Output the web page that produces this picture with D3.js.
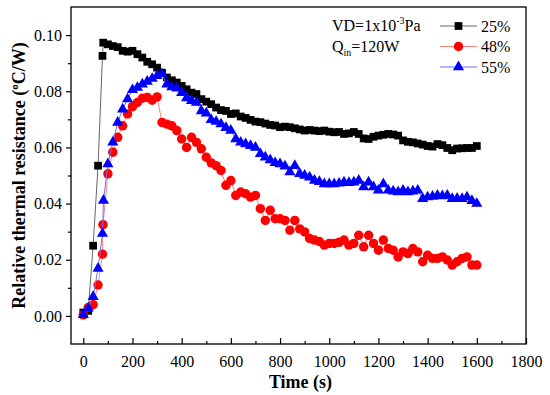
<!DOCTYPE html>
<html><head><meta charset="utf-8">
<script src="https://cdn.jsdelivr.net/npm/d3@7"></script>
<style>body{margin:0;background:#fff}svg{display:block}text{font-family:"Liberation Serif","Times New Roman",serif}</style>
</head><body><div id="chart"></div>
<script>
const seriesNames = ["25%", "48%", "55%"];
const xTicks = [0,200,400,600,800,1000,1200,1400,1600,1800];
const yTicks = [0.00,0.02,0.04,0.06,0.08,0.10];
const yTickLabels = ["0.00","0.02","0.04","0.06","0.08","0.10"];

const time25 = [0,20,40,60,78,81,100,120,140,160,180,200,220,240,260,280,300,320,340,360,380,400,420,440,460,480,500,520,540,560,580,600,620,640,660,680,700,720,740,760,780,800,820,840,860,880,900,920,940,960,980,1000,1020,1040,1060,1080,1100,1120,1140,1160,1180,1200,1220,1240,1260,1280,1300,1320,1340,1360,1380,1400,1420,1440,1460,1480,1500,1520,1540,1560,1580,1600];
const value25 = [0.0012,0.0018,0.025,0.0535,0.0926,0.0973,0.0967,0.0961,0.0957,0.0944,0.0941,0.0944,0.0932,0.0920,0.0905,0.0896,0.0884,0.0866,0.0849,0.0839,0.0831,0.0819,0.0807,0.0795,0.0790,0.0772,0.0763,0.0754,0.0742,0.0733,0.0730,0.0719,0.0721,0.0710,0.0705,0.0698,0.0692,0.0690,0.0685,0.0680,0.0678,0.0672,0.0674,0.0672,0.0668,0.0664,0.0660,0.0662,0.0660,0.0658,0.0660,0.0656,0.0654,0.0655,0.0648,0.0650,0.0655,0.0648,0.0632,0.0630,0.0638,0.0642,0.0645,0.0648,0.0646,0.0642,0.0625,0.0620,0.0618,0.0614,0.0610,0.0605,0.0603,0.0612,0.0608,0.0598,0.0590,0.0596,0.0597,0.0598,0.0598,0.0605];

const time48 = [0,20,40,60,78,80,100,120,140,160,180,200,220,240,260,280,300,320,340,360,380,400,420,440,460,480,500,520,540,560,580,600,620,640,660,680,700,720,740,760,780,800,820,840,860,880,900,920,940,960,980,1000,1020,1040,1060,1080,1100,1120,1140,1160,1180,1200,1220,1240,1260,1280,1300,1320,1340,1360,1380,1400,1420,1440,1460,1480,1500,1520,1540,1560,1580,1600];
const value48 = [0.0004,0.0030,0.0040,0.0110,0.0220,0.0325,0.0506,0.0583,0.0636,0.0677,0.0719,0.0745,0.0760,0.0775,0.0778,0.0768,0.0780,0.0689,0.0683,0.0677,0.0660,0.0630,0.0600,0.0636,0.0618,0.0595,0.0565,0.0545,0.0535,0.0518,0.0465,0.0482,0.0429,0.0441,0.0435,0.0423,0.0429,0.0382,0.0340,0.0376,0.0346,0.0346,0.0340,0.0305,0.0340,0.0310,0.0299,0.0276,0.0270,0.0265,0.0252,0.0258,0.0258,0.0262,0.0270,0.0252,0.0258,0.0287,0.0246,0.0287,0.0258,0.0234,0.0270,0.0240,0.0234,0.0210,0.0228,0.0222,0.0240,0.0228,0.0193,0.0216,0.0205,0.0205,0.0210,0.0199,0.0181,0.0193,0.0205,0.0210,0.0181,0.0181];

const time55 = [0,20,40,60,78,82,100,120,140,160,180,200,220,240,260,280,300,320,340,360,380,400,420,440,460,480,500,520,540,560,580,600,620,640,660,680,700,720,740,760,780,800,820,840,860,880,900,920,940,960,980,1000,1020,1040,1060,1080,1100,1120,1140,1160,1180,1200,1220,1240,1260,1280,1300,1320,1340,1360,1380,1400,1420,1440,1460,1480,1500,1520,1540,1560,1580,1600];
const value55 = [0.0004,0.0027,0.0068,0.0169,0.0293,0.0411,0.0541,0.0618,0.0689,0.0736,0.0772,0.0805,0.0813,0.0825,0.0835,0.0845,0.0855,0.0862,0.0825,0.0815,0.0811,0.0795,0.0776,0.0766,0.0760,0.0730,0.0722,0.0698,0.0692,0.0683,0.0670,0.0660,0.0630,0.0618,0.0612,0.0606,0.0600,0.0577,0.0565,0.0555,0.0545,0.0541,0.0533,0.0512,0.0535,0.0506,0.0500,0.0494,0.0482,0.0478,0.0470,0.0470,0.0470,0.0472,0.0476,0.0474,0.0476,0.0482,0.0459,0.0476,0.0459,0.0447,0.0470,0.0447,0.0444,0.0441,0.0447,0.0441,0.0444,0.0447,0.0417,0.0423,0.0425,0.0429,0.0427,0.0429,0.0417,0.0418,0.0417,0.0423,0.0410,0.0400];

const W = 550, H = 395;
const mLeft = 71, mRight = 526, mTop = 7, mBottom = 344;

const svg = d3.select("#chart").append("svg").attr("width", W).attr("height", H);
const x = d3.scaleLinear().domain([-50, 1800]).range([mLeft, mRight]);
const y = d3.scaleLinear().domain([-0.01, 0.11]).range([mBottom, mTop]);

const series = [
  {name: seriesNames[0], t: time25, v: value25, line: "#666666", fill: "#000000", sym: d3.symbolSquare, size: 60},
  {name: seriesNames[1], t: time48, v: value48, line: "#ff7f7f", fill: "#ff0000", sym: d3.symbolCircle, size: 70},
  {name: seriesNames[2], t: time55, v: value55, line: "#6f6fff", fill: "#0000ff", sym: d3.symbolTriangle, size: 54}
];

const plot = svg.append("g");
series.forEach(s => {
  const pts = s.t.map((t, i) => [t, s.v[i]]);
  plot.append("path").datum(pts)
    .attr("fill", "none").attr("stroke", s.line).attr("stroke-width", 1)
    .attr("d", d3.line().x(d => x(d[0])).y(d => y(d[1])));
  plot.selectAll(null).data(pts).enter().append("path")
    .attr("transform", d => `translate(${x(d[0])},${y(d[1])})`)
    .attr("d", d3.symbol().type(s.sym).size(s.size))
    .attr("fill", s.fill);
});

// frame
svg.append("rect").attr("x", mLeft).attr("y", mTop).attr("width", mRight-mLeft).attr("height", mBottom-mTop)
  .attr("fill", "none").attr("stroke", "#000").attr("stroke-width", 1.3);

// x axis (ticks inward)
const xAxis = d3.axisBottom(x).tickValues(xTicks).tickSize(-6).tickPadding(12).tickFormat(d3.format("d"));
const gx = svg.append("g").attr("transform", `translate(0,${mBottom})`).call(xAxis);
gx.select(".domain").remove();
gx.selectAll("text").attr("font-size", 16).attr("fill", "#000");
const xMinor = d3.axisBottom(x).tickValues(d3.range(100, 1800, 200)).tickSize(-3).tickFormat("");
const gxm = svg.append("g").attr("transform", `translate(0,${mBottom})`).call(xMinor);
gxm.select(".domain").remove();

// y axis (ticks outward)
const yAxis = d3.axisLeft(y).tickValues(yTicks).tickSize(5).tickPadding(4).tickFormat((d, i) => yTickLabels[i]);
const gy = svg.append("g").attr("transform", `translate(${mLeft},0)`).call(yAxis);
gy.select(".domain").remove();
gy.selectAll("text").attr("font-size", 16).attr("fill", "#000");
const yMinor = d3.axisLeft(y).tickValues([0.01,0.03,0.05,0.07,0.09]).tickSize(3).tickFormat("");
const gym = svg.append("g").attr("transform", `translate(${mLeft},0)`).call(yMinor);
gym.select(".domain").remove();
svg.selectAll(".tick line").attr("stroke", "#000").attr("stroke-width", 1.2);

// axis titles
svg.append("text").attr("x", (mLeft+mRight)/2 + 2).attr("y", 388).attr("text-anchor", "middle")
  .attr("font-size", 18).attr("font-weight", "bold").text("Time (s)");
const yt = svg.append("text").attr("transform", `translate(25,${(mTop+mBottom)/2}) rotate(-90)`)
  .attr("text-anchor", "middle").attr("font-size", 18).attr("font-weight", "bold");
yt.append("tspan").text("Relative thermal resistance (");
yt.append("tspan").attr("font-size", 11).attr("dy", -7).text("o");
yt.append("tspan").attr("dy", 7).text("C/W)");

// annotation
const a1 = svg.append("text").attr("x", 332).attr("y", 31).attr("font-size", 16);
a1.append("tspan").text("VD=1x10");
a1.append("tspan").attr("font-size", 10).attr("dy", -7).text("-3");
a1.append("tspan").attr("dy", 7).text("Pa");
const a2 = svg.append("text").attr("x", 332).attr("y", 52).attr("font-size", 16);
a2.append("tspan").text("Q");
a2.append("tspan").attr("font-size", 10).attr("dy", 4).text("in");
a2.append("tspan").attr("dy", -4).text("=120W");

// legend
series.forEach((s, i) => {
  const cy = 26 + i * 20.5;
  svg.append("line").attr("x1", 440).attr("x2", 477).attr("y1", cy).attr("y2", cy)
    .attr("stroke", s.line).attr("stroke-width", 1);
  svg.append("path").attr("transform", `translate(458.5,${cy})`)
    .attr("d", d3.symbol().type(s.sym).size(s.size)).attr("fill", s.fill);
  svg.append("text").attr("x", 481).attr("y", cy + 5.5).attr("font-size", 16).text(s.name);
});
</script></body></html>
